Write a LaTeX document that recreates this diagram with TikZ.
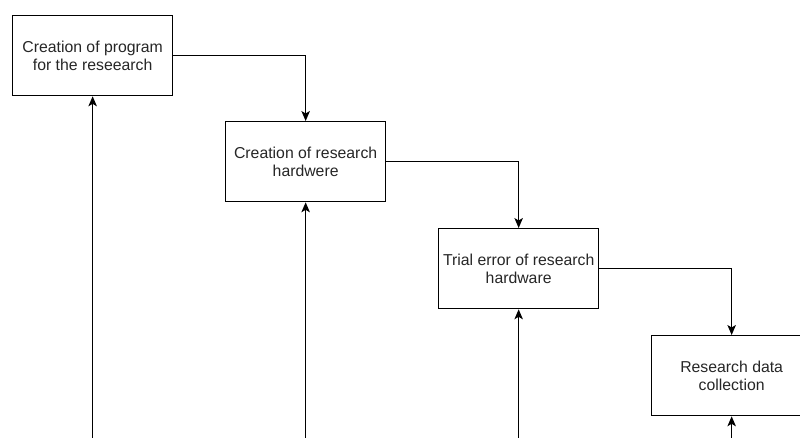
\documentclass[tikz,border=0pt]{standalone}
\usepackage{fontspec}
\setmainfont{Liberation Sans}
\usetikzlibrary{arrows.meta}
\begin{document}
\begin{tikzpicture}[x=1pt,y=-1pt,
  stepbox/.style={draw=black,line width=1.3pt,minimum width=160pt,minimum height=80pt,
    inner sep=0pt,align=center,font=\fontsize{15.8}{18}\selectfont,text=black!85,anchor=north west},
  conn/.style={draw=black,line width=1.1pt,-{Stealth[length=10pt,width=8.5pt,inset=2.5pt]}}]
\useasboundingbox (0,0) rectangle (800,438);
\node[stepbox] (b1) at (12,15) {Creation of program\\for the reseearch};
\node[stepbox] (b2) at (225,121) {Creation of research\\hardwere};
\node[stepbox] (b3) at (438,228) {Trial error of research\\hardware};
\node[stepbox] (b4) at (651,335) {Research data\\collection};
\coordinate (e1) at (b1.south |- 0,438);
\coordinate (e2) at (b2.south |- 0,438);
\coordinate (e3) at (b3.south |- 0,438);
\coordinate (e4) at (b4.south |- 0,438);
\draw[conn] (b1.east) -| (b2.north);
\draw[conn] (b2.east) -| (b3.north);
\draw[conn] (b3.east) -| (b4.north);
\draw[conn] (e1) -- (b1.south);
\draw[conn] (e2) -- (b2.south);
\draw[conn] (e3) -- (b3.south);
\draw[conn] (e4) -- (b4.south);
\end{tikzpicture}
\end{document}
